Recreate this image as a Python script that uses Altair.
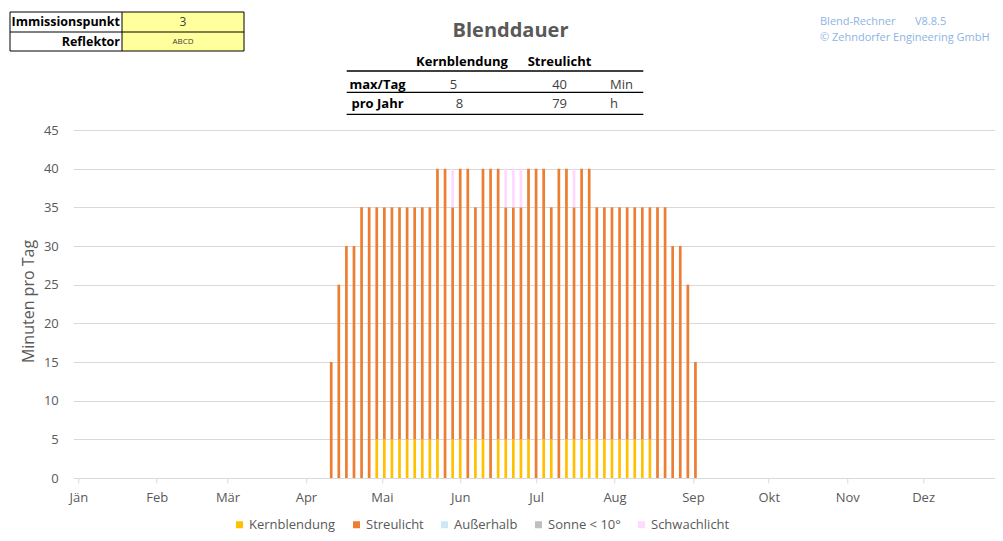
import altair as alt
import pandas as pd

FONT = "Open Sans"
GRAU = "#595959"

# ---------------- data ----------------
tage = [101, 104, 107, 110, 113, 116, 119, 122, 125, 128, 131, 134, 137, 140, 143, 146,
        149, 152, 155, 158, 161, 164, 167, 170, 173, 176, 179, 182, 185, 188, 191, 194,
        197, 200, 203, 206, 209, 212, 215, 218, 221, 224, 227, 230, 233, 236, 239, 242, 245]
kernblendung = [0, 0, 0, 0, 0, 0, 5, 5, 5, 5, 5, 5, 5, 5,
                5, 0, 5, 5, 0, 5, 5, 0, 5, 5, 5, 5, 5, 0, 5, 5, 0, 5, 5, 5, 5,
                5, 5, 5, 5, 5, 5, 5, 5, 0, 0, 0, 0, 0, 0]
streulicht = [15, 25, 30, 30, 35, 35, 30, 30, 30, 30, 30, 30, 30, 30,
              35, 40, 30, 35, 40, 30, 35, 40, 35, 30, 30, 30, 35, 40, 35, 30, 40, 35, 30, 35, 35,
              30, 30, 30, 30, 30, 30, 30, 30, 35, 35, 30, 30, 25, 15]
schwachlicht = [0, 0, 0, 0, 0, 0, 0, 0, 0, 0, 0, 0, 0, 0,
                0, 0, 5, 0, 0, 0, 0, 0, 0, 5, 5, 5, 0, 0, 0, 0, 0, 0, 5, 0, 0,
                0, 0, 0, 0, 0, 0, 0, 0, 0, 0, 0, 0, 0, 0]

kategorien = ["Kernblendung", "Streulicht", "Außerhalb", "Sonne < 10°", "Schwachlicht"]
farben = ["#FFC000", "#ED7D31", "#CDE7F8", "#BFBFBF", "#FFD9FF"]

monat_tage = [1, 32, 60, 91, 121, 152, 182, 213, 244, 274, 305, 335]
monate = ["Jän", "Feb", "Mär", "Apr", "Mai", "Jun", "Jul", "Aug", "Sep", "Okt", "Nov", "Dez"]
y_ticks = [0, 5, 10, 15, 20, 25, 30, 35, 40, 45]

kopf_labels = ["Immissionspunkt", "Reflektor"]
kopf_werte = ["3", "ABCD"]
titel = "Blenddauer"
tab_spalten = ["Kernblendung", "Streulicht"]
tab_zeilen = ["max/Tag", "pro Jahr"]
tab_kern = ["5", "8"]
tab_streu = ["40", "79"]
tab_einheit = ["Min", "h"]
credits = ["Blend-Rechner", "V8.8.5", "© Zehndorfer Engineering GmbH"]

rows = []
for i, t in enumerate(tage):
    for k, vals in [(0, kernblendung), (1, streulicht), (4, schwachlicht)]:
        if vals[i] > 0:
            rows.append({"tag": t, "kat": kategorien[k], "ord": k, "min": vals[i]})
df = pd.DataFrame(rows)

# ---------------- geometry ----------------
OX, OY = 73.3, 130.0   # page position of plot origin
W, H = 921.7, 348.0
PX_PER_DAY = 2.557


def px(x):
    return x - OX


def py(y):
    return y - OY


label_expr = "[" + ",".join("'%s'" % m for m in monate) + "][indexof([" + \
    ",".join(str(d) for d in monat_tage) + "], datum.value)]"

bars = alt.Chart(df).mark_bar(size=2.7, strokeWidth=0).encode(
    x=alt.X("tag:Q",
            scale=alt.Scale(domain=[1, 1 + W / PX_PER_DAY], nice=False, zero=False),
            axis=alt.Axis(values=monat_tage, labelExpr=label_expr, title=None, grid=False,
                          domainColor="#D9D9D9", tickColor="#D9D9D9", tickSize=5,
                          labelFont=FONT, labelFontSize=13, labelColor=GRAU,
                          labelPadding=8, labelFlush=False, labelOverlap=False)),
    y=alt.Y("min:Q", stack="zero",
            scale=alt.Scale(domain=[0, 45], nice=False),
            axis=alt.Axis(values=y_ticks, title="Minuten pro Tag", domain=False, ticks=False,
                          gridColor="#D9D9D9", gridWidth=1,
                          labelFont=FONT, labelFontSize=13, labelColor=GRAU, labelPadding=15,
                          titleFont=FONT, titleFontSize=16, titleFontWeight="normal",
                          titleColor=GRAU, titleX=px(28.5), titleY=171, titleAngle=270,
                          titleAlign="center", titleBaseline="middle")),
    color=alt.Color("kat:N",
                    scale=alt.Scale(domain=kategorien, range=farben),
                    legend=alt.Legend(orient="none", direction="horizontal", columns=5,
                                      legendX=px(233), legendY=py(518), title=None,
                                      symbolType="square", symbolSize=49, symbolStrokeWidth=0,
                                      labelFont=FONT, labelFontSize=13, labelColor=GRAU,
                                      labelOffset=3, columnPadding=14, padding=0)),
    order=alt.Order("ord:Q", sort="ascending"),
)

one = pd.DataFrame({"a": [0]})


def txt(wert, x, y, size=13, weight="normal", color="#404040", align="center"):
    return alt.Chart(pd.DataFrame({"t": [wert]})).mark_text(
        align=align, baseline="middle", fontSize=size, fontWeight=weight,
        color=color, font=FONT).encode(x=alt.value(px(x)), y=alt.value(py(y)), text="t:N")


def linie(x1, x2, y1, y2, color="#000000", width=1.0):
    return alt.Chart(one).mark_rule(color=color, strokeWidth=width).encode(
        x=alt.value(px(x1)), x2=alt.value(px(x2)), y=alt.value(py(y1)), y2=alt.value(py(y2)))


def box(x1, x2, y1, y2, fill, stroke=None):
    kw = dict(fill=fill)
    if stroke:
        kw.update(stroke=stroke, strokeWidth=1)
    return alt.Chart(one).mark_rect(**kw).encode(
        x=alt.value(px(x1)), x2=alt.value(px(x2)), y=alt.value(py(y1)), y2=alt.value(py(y2)))


layers = [
    bars,
    # top-left table
    box(122, 244, 12, 51, "#FFFF9C"),
    box(10, 244, 12, 51, "transparent", "#000000"),
    linie(10, 244, 32, 32),
    linie(122, 122, 12, 51),
    txt(kopf_labels[0], 120, 22, 12.5, "bold", "#000000", "right"),
    txt(kopf_labels[1], 120, 42, 12.5, "bold", "#000000", "right"),
    txt(kopf_werte[0], 183, 22, 12, "normal", "#404040"),
    txt(kopf_werte[1], 183, 42, 8, "normal", "#404040"),
    # title
    txt(titel, 510.5, 31, 20, "bold", GRAU),
    # summary table
    txt(tab_spalten[0], 462, 61.5, 13, "bold", "#000000"),
    txt(tab_spalten[1], 559.5, 61.5, 13, "bold", "#000000"),
    linie(346.7, 643.3, 71, 71, "#000000", 1.3),
    linie(346.7, 643.3, 92.3, 92.3, "#000000", 1.3),
    linie(346.7, 643.3, 114.3, 114.3, "#000000", 1.3),
    txt(tab_zeilen[0], 377.5, 84.5, 13, "bold", "#000000"),
    txt(tab_zeilen[1], 377.5, 103.5, 13, "bold", "#000000"),
    txt(tab_kern[0], 453.5, 84.5, 13, "normal", "#404040"),
    txt(tab_kern[1], 459.5, 103.5, 13, "normal", "#404040"),
    txt(tab_streu[0], 567, 84.5, 13, "normal", "#404040", "right"),
    txt(tab_streu[1], 567, 103.5, 13, "normal", "#404040", "right"),
    txt(tab_einheit[0], 610, 84.5, 13, "normal", "#404040", "left"),
    txt(tab_einheit[1], 610, 103.5, 13, "normal", "#404040", "left"),
    # credits
    txt(credits[0], 820, 21.7, 11, "normal", "#8EB4E3", "left"),
    txt(credits[1], 915, 21.7, 11, "normal", "#8EB4E3", "left"),
    txt(credits[2], 820, 38.3, 11, "normal", "#8EB4E3", "left"),
]

chart = alt.layer(*layers).properties(
    width=W, height=H,
    autosize=alt.AutoSizeParams(type="none"),
    padding={"left": OX - 8, "top": OY - 8, "right": 0, "bottom": 55},
    background="white",
).configure_view(stroke=None)

chart.save("out.html", embed_options={"renderer": "svg", "actions": False})
